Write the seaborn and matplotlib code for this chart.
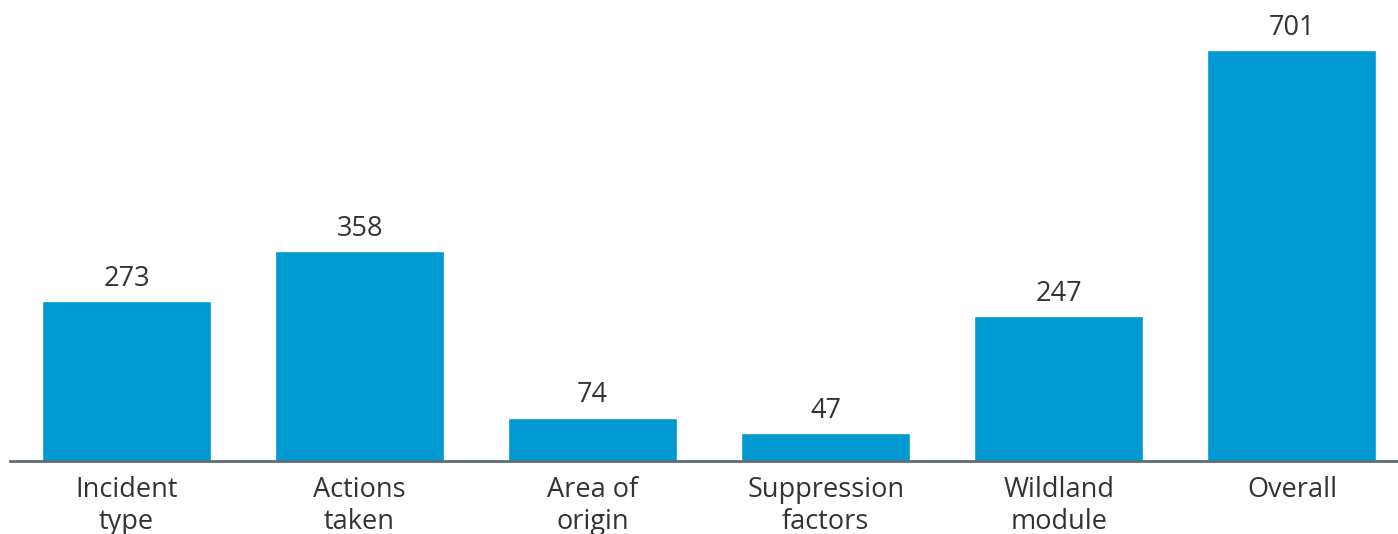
import pandas as pd
import matplotlib.pyplot as plt
import seaborn as sns

categories = ["Incident\ntype", "Actions\ntaken", "Area of\norigin",
              "Suppression\nfactors", "Wildland\nmodule", "Overall"]
counts = [273, 358, 74, 47, 247, 701]

df = pd.DataFrame({"category": categories, "count": counts})

sns.set_style("white")
plt.rcParams['font.family'] = ['Open Sans', 'DejaVu Sans']

fig = plt.figure(figsize=(13.98, 5.34), dpi=100)
ax = fig.add_axes([10 / 1398, 73 / 534, 1388 / 1398, 461 / 534])

sns.barplot(x="category", y="count", data=df, color="#0099d1",
            saturation=1, width=0.725, ax=ax)

ax.bar_label(ax.containers[0], fmt="%d", padding=6, fontsize=19.5, color="#333333")

ax.set_xlim(-0.5, 5.455)
ax.set_ylim(0, 786)
ax.set_xlabel("")
ax.set_ylabel("")
ax.set_yticks([])
ax.tick_params(axis="x", length=0, pad=11, labelsize=19.5, labelcolor="#333333")
for lbl in ax.get_xticklabels():
    lbl.set_linespacing(1.2)

for s in ["top", "right", "left"]:
    ax.spines[s].set_visible(False)
ax.spines["bottom"].set_color("#5f6b75")
ax.spines["bottom"].set_linewidth(2)

fig.savefig("out.png", dpi=100)
